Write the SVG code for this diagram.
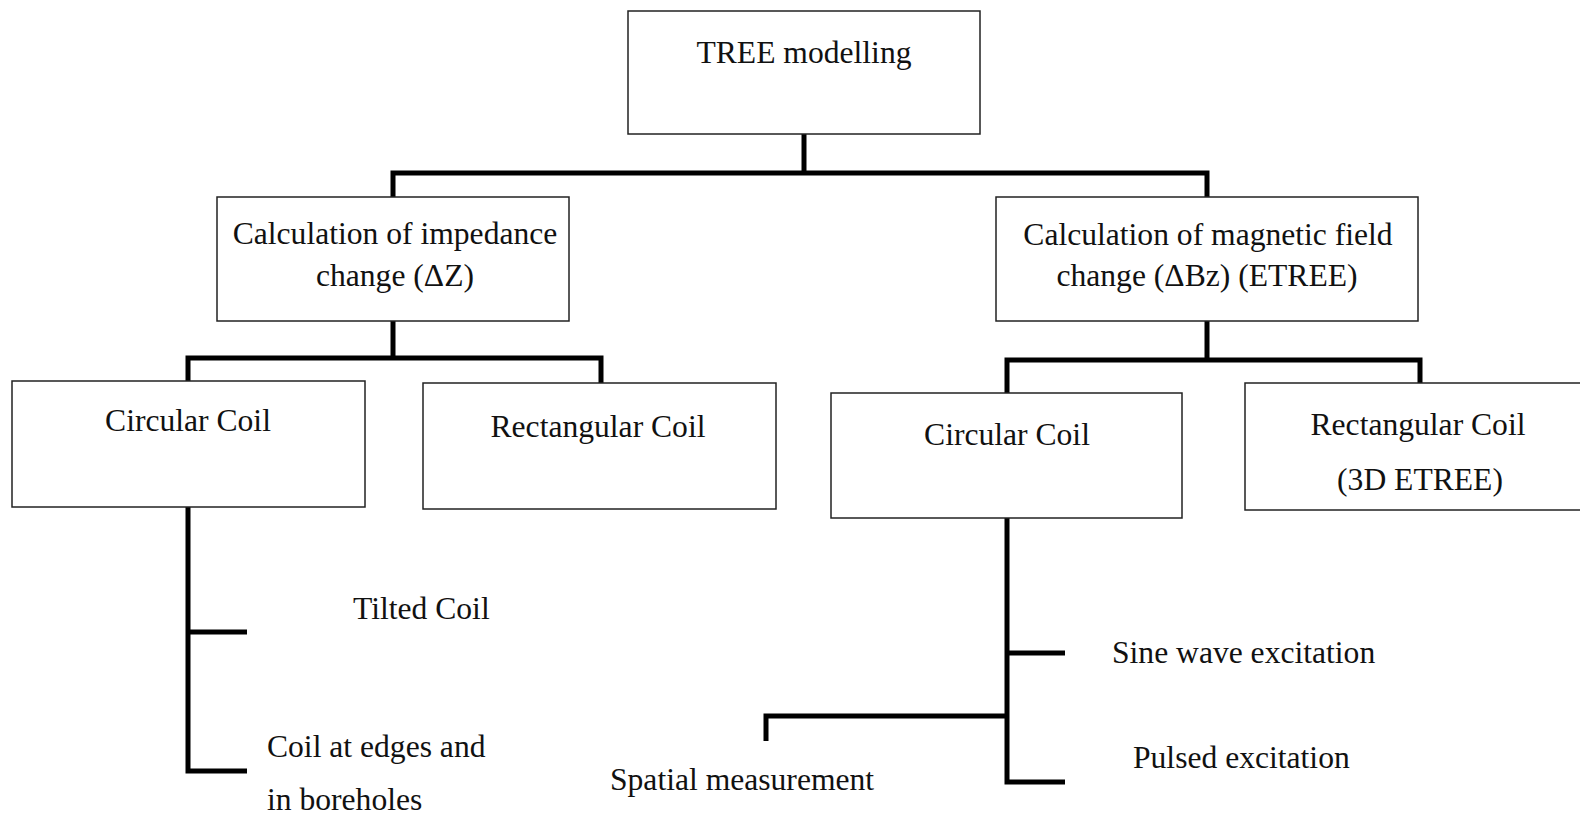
<svg xmlns="http://www.w3.org/2000/svg" width="1580" height="816" viewBox="0 0 1580 816">
  <style>
    .box { fill: #ffffff; stroke: #222222; stroke-width: 1.5; }
    .lbl { font-family: "Liberation Serif", "Times New Roman", serif; font-size: 31.6px; fill: #111111; }
    .mid { text-anchor: middle; }
    .wire { fill: none; stroke: #000000; stroke-width: 5; stroke-linecap: butt; stroke-linejoin: miter; }
  </style>
  <rect x="0" y="0" width="1580" height="816" fill="#ffffff"/>

  <!-- connectors -->
  <g id="connectors" class="wire">
    <!-- root to level 1 -->
    <path d="M804 134 V173"/>
    <path d="M393 197 V173 H1207 V197"/>
    <!-- impedance branch -->
    <path d="M393 321 V358"/>
    <path d="M188 381 V358 H601 V383"/>
    <!-- magnetic field branch -->
    <path d="M1207 321 V360"/>
    <path d="M1007 393 V360 H1420 V383"/>
    <!-- left circular coil sub-items -->
    <path d="M188 507 V771 H247"/>
    <path d="M188 632 H247"/>
    <!-- right circular coil sub-items -->
    <path d="M1007 518 V782 H1065"/>
    <path d="M1007 653 H1065"/>
    <path d="M1007 716 H766 V741"/>
  </g>

  <g id="tree-modelling">
    <rect class="box" x="628" y="11" width="352" height="123"/>
    <text class="lbl mid" x="804" y="63">TREE modelling</text>
  </g>

  <g id="impedance-change">
    <rect class="box" x="217" y="197" width="352" height="124"/>
    <text class="lbl mid" x="395" y="244">Calculation of impedance</text>
    <text class="lbl mid" x="395" y="286">change (ΔZ)</text>
  </g>

  <g id="magnetic-field-change">
    <rect class="box" x="996" y="197" width="422" height="124"/>
    <text class="lbl mid" x="1208" y="245">Calculation of magnetic field</text>
    <text class="lbl mid" x="1207" y="286">change (ΔBz) (ETREE)</text>
  </g>

  <g id="circular-coil-left">
    <rect class="box" x="12" y="381" width="353" height="126"/>
    <text class="lbl mid" x="188" y="431">Circular Coil</text>
  </g>

  <g id="rectangular-coil-left">
    <rect class="box" x="423" y="383" width="353" height="126"/>
    <text class="lbl mid" x="598" y="437">Rectangular Coil</text>
  </g>

  <g id="circular-coil-right">
    <rect class="box" x="831" y="393" width="351" height="125"/>
    <text class="lbl mid" x="1007" y="445">Circular Coil</text>
  </g>

  <g id="rectangular-coil-right">
    <rect class="box" x="1245" y="383" width="345" height="127"/>
    <text class="lbl mid" x="1418" y="435">Rectangular Coil</text>
    <text class="lbl mid" x="1420" y="490">(3D ETREE)</text>
  </g>

  <g id="tilted-coil">
    <text class="lbl" x="353" y="619">Tilted Coil</text>
  </g>

  <g id="coil-edges-boreholes">
    <text class="lbl" x="267" y="757">Coil at edges and</text>
    <text class="lbl" x="267" y="810">in boreholes</text>
  </g>

  <g id="sine-wave">
    <text class="lbl" x="1112" y="663">Sine wave excitation</text>
  </g>

  <g id="pulsed">
    <text class="lbl" x="1133" y="768">Pulsed excitation</text>
  </g>

  <g id="spatial">
    <text class="lbl" x="610" y="790">Spatial measurement</text>
  </g>
</svg>
